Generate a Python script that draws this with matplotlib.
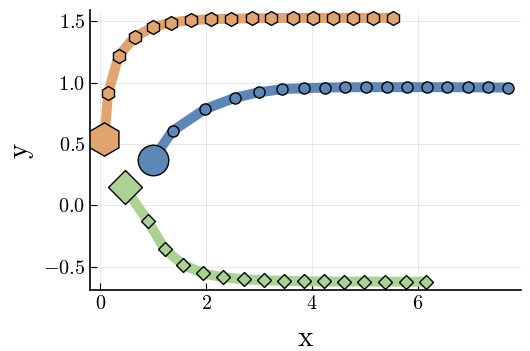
import numpy as np
import matplotlib
matplotlib.use("Agg")
import matplotlib.pyplot as plt

plt.rcParams['font.family'] = ['cmr10', 'DejaVu Serif']
plt.rcParams['mathtext.fontset'] = 'cm'
plt.rcParams['axes.formatter.use_mathtext'] = True

# series values
blue_x = [0.99, 1.37, 1.99, 2.54, 3.01, 3.44, 3.85, 4.25, 4.63, 5.02, 5.41,
          5.80, 6.18, 6.56, 6.94, 7.33, 7.71]
blue_y = [0.37, 0.607, 0.786, 0.876, 0.922, 0.947, 0.955, 0.96, 0.962, 0.963,
          0.963, 0.963, 0.963, 0.963, 0.962, 0.961, 0.96]

orange_x = [0.08, 0.15, 0.35, 0.65, 0.99, 1.34, 1.71, 2.09, 2.48, 2.86, 3.23,
            3.64, 4.02, 4.40, 4.78, 5.16, 5.54]
orange_y = [0.539, 0.914, 1.219, 1.371, 1.453, 1.49, 1.51, 1.518, 1.522, 1.525,
            1.527, 1.528, 1.528, 1.529, 1.529, 1.529, 1.529]

green_x = [0.46, 0.90, 1.22, 1.57, 1.94, 2.32, 2.71, 3.10, 3.48, 3.86, 4.23,
           4.61, 4.99, 5.38, 5.77, 6.15]
green_y = [0.147, -0.128, -0.359, -0.487, -0.555, -0.588, -0.604, -0.612, -0.617,
           -0.62, -0.622, -0.623, -0.623, -0.624, -0.624, -0.624]

xticks = [0, 2, 4, 6]
yticks = [-0.5, 0.0, 0.5, 1.0, 1.5]

series = [
    (blue_x, blue_y, '#5c87b6', 'o', 8, 22),
    (orange_x, orange_y, '#e1a470', 'h', 10, 24),
    (green_x, green_y, '#abd194', 'D', 7, 17),
]

fig = plt.figure(figsize=(5.3, 3.51), dpi=100)
ax = fig.add_axes([0.170, 0.174, 0.813, 0.798])

for xs, ys, col, mk, ms, big in series:
    ax.plot(xs, ys, color=col, lw=7.2, solid_capstyle='butt', zorder=2)
    ax.plot(xs[1:], ys[1:], ls='none', marker=mk, ms=ms, mfc=col,
            mec='black', mew=1.0, zorder=3)
    ax.plot(xs[:1], ys[:1], ls='none', marker=mk, ms=big, mfc=col,
            mec='black', mew=1.0, zorder=4)

ax.set_xlim(-0.19, 7.95)
ax.set_ylim(-0.691, 1.594)
ax.set_xticks(xticks)
ax.set_yticks(yticks)
ax.grid(True, color='black', alpha=0.1, lw=0.6)
ax.set_axisbelow(True)
for s in ['top', 'right']:
    ax.spines[s].set_visible(False)
for s in ['left', 'bottom']:
    ax.spines[s].set_linewidth(1.2)
ax.tick_params(direction='in', length=5, width=0.8, labelsize=14.5)
ax.set_xlabel('x', fontsize=21, labelpad=9)
ax.set_ylabel('y', fontsize=21, labelpad=7)

fig.savefig('out.png', dpi=100)
